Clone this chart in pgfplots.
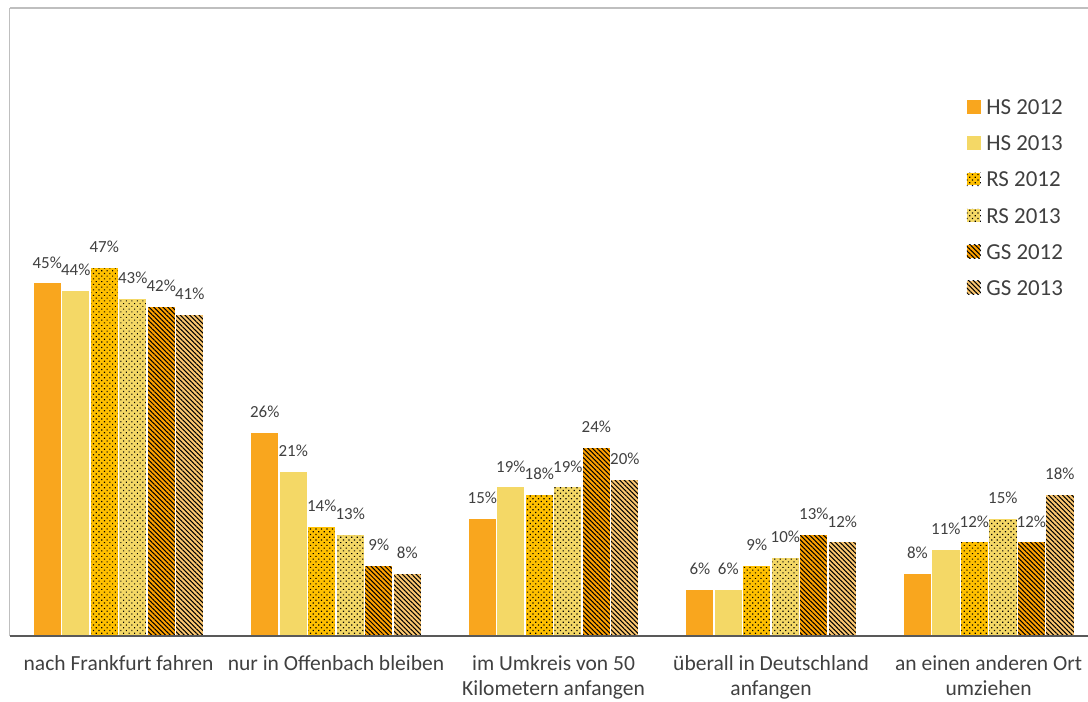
\documentclass[border=0pt]{standalone}
\usepackage{pgfplots}
\pgfplotsset{compat=1.18}
\usepackage{fontspec}
\setmainfont{Carlito}
\usetikzlibrary{patterns,patterns.meta}

\definecolor{hsA}{HTML}{F9A61E}
\definecolor{hsB}{HTML}{F4D866}
\definecolor{rsA}{HTML}{FFC000}
\definecolor{rsB}{HTML}{F4D866}
\definecolor{gsA}{HTML}{FFA200}
\definecolor{gsB}{HTML}{FDC870}
\definecolor{txt}{HTML}{404040}
\definecolor{axgray}{HTML}{595959}
\definecolor{framegray}{HTML}{BFBFBF}

\tikzset{
  dotfill/.style={pattern={Dots[angle=45,distance=3.9pt,radius=0.85pt]},pattern color=black},
  linefill/.style={pattern={Lines[angle=-45,distance=3.3pt,line width=1.05pt]},pattern color=black},
}

\begin{document}
\begin{tikzpicture}
\begin{axis}[
  scale only axis,
  width=1078.25bp, height=628bp,
  xmin=-0.5, xmax=4.457, ymin=0, ymax=80,
  ybar=0pt, bar width=0.131,
  axis on top,
  axis x line=bottom, axis y line=left,
  x axis line style={-, draw=axgray, line width=1.3bp},
  y axis line style={-, draw=framegray, line width=1.2bp},
  ytick=\empty,
  xtick={0,1,2,3,4},
  xticklabels={{nach Frankfurt fahren},{nur in Offenbach bleiben},{im Umkreis von 50\\Kilometern anfangen},{überall in Deutschland\\anfangen},{an einen anderen Ort\\umziehen}},
  major tick length=0pt,
  xticklabel style={font=\fontsize{21.6}{25}\selectfont, text=txt, align=center, anchor=north, yshift=-16bp},
  nodes near coords={\pgfmathprintnumber{\pgfplotspointmeta}\%},
  nodes near coords style={font=\fontsize{17}{20}\selectfont, text=txt, inner sep=2bp, anchor=south, yshift=12bp},
  /pgf/number format/assume math mode=true,
  every axis plot/.append style={draw=white, line width=1.2bp},
  legend style={draw=none, fill=none, at={(0.8868,0.858)}, anchor=north west,
    font=\fontsize{23}{27}\selectfont, text=txt, row sep=15.9bp, inner sep=0pt,
    nodes={inner sep=2bp}},
  legend cell align=left,
  legend image code/.code={\draw[#1, draw=none] (0bp,-6bp) rectangle (14bp,8bp);},
  /tikz/every odd column/.append style={column sep=3bp},
  clip=false,
]
% Hauptschule
\addplot[fill=hsA] coordinates {(0,45) (1,26) (2,15) (3,6) (4,8)};
\addlegendentry{HS 2012}
\addplot[fill=hsB] coordinates {(0,44) (1,21) (2,19) (3,6) (4,11)};
\addlegendentry{HS 2013}
% Realschule
\addplot[preaction={fill=rsA}, dotfill] coordinates {(0,47) (1,14) (2,18) (3,9) (4,12)};
\addlegendentry{RS 2012}
\addplot[preaction={fill=rsB}, dotfill] coordinates {(0,43) (1,13) (2,19) (3,10) (4,15)};
\addlegendentry{RS 2013}
% Gymnasium
\addplot[preaction={fill=gsA}, linefill] coordinates {(0,42) (1,9) (2,24) (3,13) (4,12)};
\addlegendentry{GS 2012}
\addplot[preaction={fill=gsB}, linefill] coordinates {(0,41) (1,8) (2,20) (3,12) (4,18)};
\addlegendentry{GS 2013}
% upper frame line
\draw[framegray, line width=1.2bp] (rel axis cs:0,1) -- (rel axis cs:1,1);
\end{axis}
\pgfresetboundingbox
\path[use as bounding box] (-9.75bp,-66bp) rectangle (1078.25bp,636bp);
\end{tikzpicture}
\end{document}
